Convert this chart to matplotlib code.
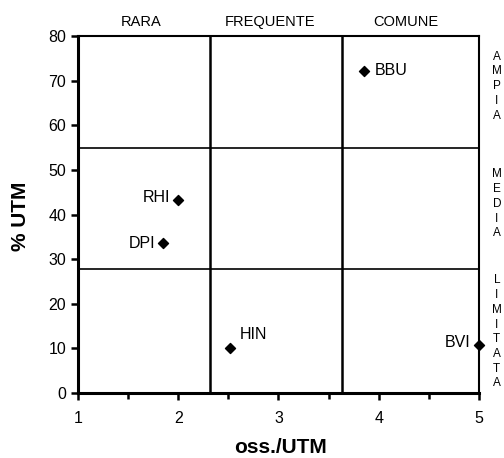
import matplotlib.pyplot as plt

plt.rcParams['font.family'] = ['Liberation Sans', 'DejaVu Sans']

# species points: oss./UTM vs % UTM
species = ['BBU', 'RHI', 'DPI', 'HIN', 'BVI']
oss_utm = [3.85, 2.0, 1.85, 2.52, 5.0]
pct_utm = [72.2, 43.3, 33.6, 10.1, 10.8]

# class boundaries
x_bounds = [2.32, 3.63]
y_bounds = [27.8, 54.9]
col_labels = ['RARA', 'FREQUENTE', 'COMUNE']
col_centres = [1.63, 2.92, 4.27]
row_labels = ['AMPIA', 'MEDIA', 'LIMITATA']
row_centres = [68.8, 42.4, 13.7]

fig = plt.figure(figsize=(5.04, 4.58), dpi=100)
ax = fig.add_axes([0.155, 0.142, 0.795, 0.779])

ax.scatter(oss_utm, pct_utm, marker='D', s=26, color='black', zorder=5, clip_on=False)
offsets = {'BBU': (8, 0, 'left', 'center'), 'RHI': (-6, 2, 'right', 'center'),
           'DPI': (-6, 0, 'right', 'center'), 'HIN': (7, 4, 'left', 'bottom'),
           'BVI': (-6, 2, 'right', 'center')}
for s, x, y in zip(species, oss_utm, pct_utm):
    dx, dy, ha, va = offsets[s]
    ax.annotate(s, (x, y), xytext=(dx, dy), textcoords='offset points',
                ha=ha, va=va, fontsize=11.5)

for xb in x_bounds:
    ax.axvline(xb, color='black', lw=1.8)
for yb in y_bounds:
    ax.axhline(yb, color='black', lw=1.2)

ax.set_xlim(1, 5)
ax.set_ylim(0, 80)
ax.set_xticks([1, 2, 3, 4, 5])
ax.set_xticks([1.5, 2.5, 3.5, 4.5], minor=True)
ax.set_yticks(range(0, 81, 10))
ax.tick_params(axis='both', labelsize=11.5, width=1.8, length=5, direction='out')
ax.tick_params(axis='x', which='minor', width=1.8, length=4)
ax.tick_params(axis='x', pad=8)
for sp in ax.spines.values():
    sp.set_linewidth(1.5)
ax.spines['left'].set_linewidth(2.2)
ax.spines['bottom'].set_linewidth(2.2)

for lab, xc in zip(col_labels, col_centres):
    ax.text(xc, 81.6, lab, ha='center', va='bottom', fontsize=10.5)
for lab, yc in zip(row_labels, row_centres):
    ax.text(1.045, yc, '\n'.join(lab), transform=ax.get_yaxis_transform(),
            ha='center', va='center', fontsize=8.5, linespacing=1.3)

ax.set_xlabel('oss./UTM', fontsize=15, fontweight='bold')
ax.set_ylabel('% UTM', fontsize=15, fontweight='bold', va='center')
ax.xaxis.set_label_coords(0.506, -0.127)
ax.yaxis.set_label_coords(-0.145, 0.496)

fig.savefig('out.png', dpi=100, facecolor='white')
